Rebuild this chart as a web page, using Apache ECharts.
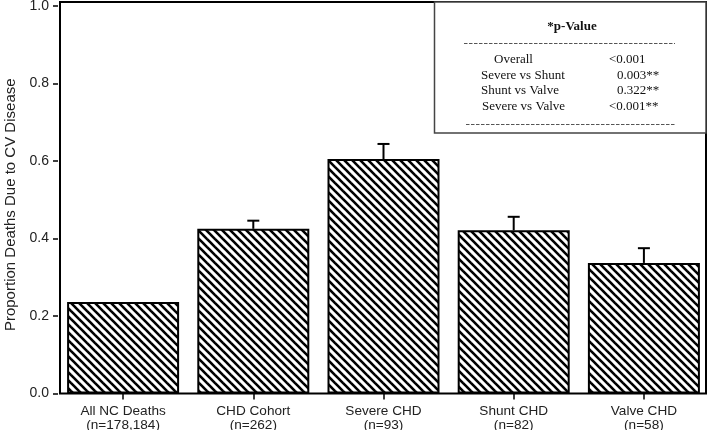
<!DOCTYPE html>
<html>
<head>
<meta charset="utf-8">
<script src="https://cdn.jsdelivr.net/npm/echarts@6/dist/echarts.min.js"></script>
<style>
html,body{margin:0;padding:0;background:#fff;}
#chart{width:709px;height:430px;}
</style>
</head>
<body>
<div id="chart"></div>
<script>
// ---- data ----
const categories = ['All NC Deaths\n(n=178,184)', 'CHD Cohort\n(n=262)', 'Severe CHD\n(n=93)', 'Shunt CHD\n(n=82)', 'Valve CHD\n(n=58)'];
const proportions = [0.236, 0.425, 0.605, 0.421, 0.337];
const upperErrors = [null, 0.446, 0.644, 0.456, 0.375];
const yTicks = [0, 0.2, 0.4, 0.6, 0.8, 1.0];
const pTitle = '*p-Value';
const pLabels = ['Overall', 'Severe vs Shunt', 'Shunt vs Valve', 'Severe vs Valve'];
const pValues = ['<0.001', '0.003**', '0.322**', '<0.001**'];

// hatch pattern
function makeHatch() {
  const c = document.createElement('canvas');
  c.width = 8; c.height = 8;
  const g = c.getContext('2d');
  g.fillStyle = '#fff'; g.fillRect(0, 0, 8, 8);
  g.strokeStyle = '#000'; g.lineWidth = 2.6;
  for (const k of [-8, 0, 8]) {
    g.beginPath(); g.moveTo(k - 1, -1); g.lineTo(k + 9, 9); g.stroke();
  }
  return c;
}

const chart = echarts.init(document.getElementById('chart'), null, {renderer: 'canvas'});
const errData = upperErrors.map((u, i) => u == null ? null : [i, proportions[i], u]).filter(d => d);

const pText = [];
const rowY = [60, 75.5, 91, 107];
const labelX = [494, 481, 481, 482];
const valueX = [609, 617, 617, 609];
pLabels.forEach((t, i) => {
  pText.push({type: 'text', x: labelX[i], y: rowY[i], style: {text: t, font: '13px "Liberation Serif", "Times New Roman", serif', fill: '#111', textVerticalAlign: 'middle'}, z: 20});
  pText.push({type: 'text', x: valueX[i], y: rowY[i], style: {text: pValues[i], font: '13px "Liberation Serif", "Times New Roman", serif', fill: '#111', textVerticalAlign: 'middle'}, z: 20});
});

chart.setOption({
  animation: false,
  backgroundColor: '#fff',
  grid: {left: 58, right: 0, top: 6, bottom: 36.5, containLabel: false, outerBoundsMode: 'none'},
  xAxis: {
    type: 'category',
    data: categories,
    axisLine: {show: false},
    axisTick: {show: true, alignWithLabel: true, length: 6, lineStyle: {color: '#000', width: 1.5}},
    axisLabel: {fontFamily: 'Liberation Sans, Arial, sans-serif', fontSize: 13.6, color: '#222', margin: 11, lineHeight: 14}
  },
  yAxis: {
    type: 'value', min: 0, max: 1.0, interval: 0.2,
    name: 'Proportion Deaths Due to CV Disease',
    nameLocation: 'middle', nameRotate: 90, nameGap: 40,
    nameTextStyle: {fontFamily: 'Liberation Sans, Arial, sans-serif', fontSize: 15, color: '#222', padding: [0, 10, 0, 0]},
    axisLine: {show: false},
    axisTick: {show: true, length: 5, lineStyle: {color: '#000', width: 1.5}},
    axisLabel: {fontFamily: 'Liberation Sans, Arial, sans-serif', fontSize: 14, color: '#222', margin: 9,
      formatter: v => yTicks.some(t => Math.abs(t - v) < 1e-9) ? v.toFixed(1) : ''},
    splitLine: {show: false}
  },
  series: [
    {
      type: 'bar',
      data: proportions,
      barWidth: 112,
      itemStyle: {color: {image: makeHatch(), repeat: 'repeat'}, borderColor: '#000', borderWidth: 2},
      z: 2
    },
    {
      type: 'custom',
      data: errData,
      z: 3,
      renderItem: function (params, api) {
        const i = api.value(0);
        const base = api.coord([i, api.value(1)]);
        const top = api.coord([i, api.value(2)]);
        const hw = 6;
        return {
          type: 'group',
          children: [
            {type: 'line', shape: {x1: base[0], y1: base[1], x2: top[0], y2: top[1]}, style: {stroke: '#000', lineWidth: 2}},
            {type: 'line', shape: {x1: top[0] - hw, y1: top[1], x2: top[0] + hw, y2: top[1]}, style: {stroke: '#000', lineWidth: 2}}
          ]
        };
      }
    }
  ],
  graphic: [
    {type: 'rect', shape: {x: 60, y: 2, width: 646, height: 391.5}, style: {fill: 'none', stroke: '#000', lineWidth: 2}, z: 10, silent: true},
    {type: 'rect', shape: {x: 434.5, y: 2, width: 271.5, height: 131}, style: {fill: '#fff', stroke: '#444', lineWidth: 1.5}, z: 11, silent: true},
    {type: 'text', x: 572, y: 27, style: {text: pTitle, font: 'bold 13px "Liberation Serif", "Times New Roman", serif', fill: '#111', textAlign: 'center', textVerticalAlign: 'middle'}, z: 20},
    {type: 'line', shape: {x1: 464, y1: 43.5, x2: 675, y2: 43.5}, style: {stroke: '#555', lineWidth: 1, lineDash: [3.5, 1.5]}, z: 20},
    {type: 'line', shape: {x1: 466, y1: 124.5, x2: 676, y2: 124.5}, style: {stroke: '#555', lineWidth: 1, lineDash: [3.5, 1.5]}, z: 20},
    ...pText
  ]
});
</script>
</body>
</html>
